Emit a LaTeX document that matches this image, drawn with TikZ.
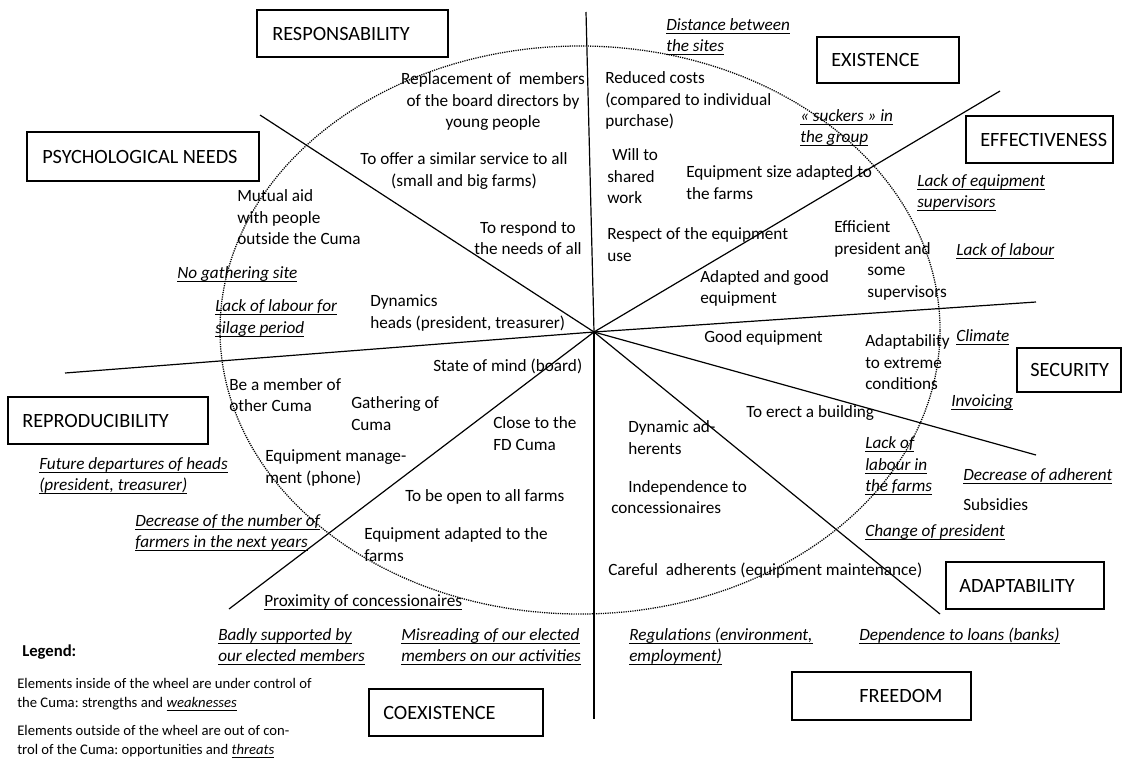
\documentclass[tikz,border=0pt]{standalone}
\usepackage{fontspec}
\setmainfont{Carlito}
\frenchspacing
\newcommand\uln[1]{\leavevmode\setbox0\hbox{#1}\rlap{\rule[-2.4pt]{\wd0}{0.6pt}}\box0}
\newcommand\thr[1]{\uln{\itshape #1}}
\begin{document}
\begin{tikzpicture}[x=0.75pt,y=-0.75pt,
  txt/.style={font=\fontsize{12.9}{16.1}\selectfont, align=left, anchor=west, inner sep=0pt},
  ctxt/.style={txt, align=center, anchor=center},
  catbox/.style={draw, line width=2.2pt, inner sep=0pt},
  cat/.style={font=\fontsize{15.2}{18}\selectfont, anchor=west, inner sep=0pt},
  leg/.style={font=\fontsize{11}{14.25}\selectfont, align=left, anchor=west, inner sep=0pt},
  spoke/.style={line width=0.9pt},
  wheel/.style={line width=0.95pt, dash pattern=on 0.9pt off 0.8pt}]
\useasboundingbox (0,0) rectangle (1124,758);

% wheel
\draw[wheel] (580,330) ellipse [x radius=270pt, y radius=213pt];

% spokes
\coordinate (C) at (594,332);
\coordinate (eU) at (586,12);
\coordinate (eD) at (594,719);
\coordinate (eUL) at (260,115);
\coordinate (eL) at (65,373);
\coordinate (eDL) at (229,609);
\coordinate (eUR) at (1000,91);
\coordinate (eR) at (1036,302);
\coordinate (eDR1) at (1036,455);
\coordinate (eDR2) at (940,614);
\foreach \e in {eU,eD,eUL,eL,eDL,eUR,eR,eDR1,eDR2} \draw[spoke] (C) -- (\e);

% category boxes
\node[catbox, minimum width=143.25pt, minimum height=35.25pt] (bResp) at (352.5,33.5) {};
\node[cat] (lResp) at (272,33.5) {RESPONSABILITY};
\node[catbox, minimum width=106.5pt, minimum height=34.5pt] (bExist) at (888,60) {};
\node[cat] (lExist) at (831,60) {EXISTENCE};
\node[catbox, minimum width=174pt, minimum height=36.75pt] (bPsych) at (143,156.5) {};
\node[cat] (lPsych) at (42,156.5) {PSYCHOLOGICAL NEEDS};
\node[catbox, minimum width=110.25pt, minimum height=35.25pt] (bEff) at (1039.5,139.5) {};
\node[cat] (lEff) at (980,139.5) {EFFECTIVENESS};
\node[catbox, minimum width=78pt, minimum height=33pt] (bSec) at (1069,370) {};
\node[cat] (lSec) at (1030,370) {SECURITY};
\node[catbox, minimum width=150pt, minimum height=35.25pt] (bRepro) at (108,420.5) {};
\node[cat] (lRepro) at (22,420.5) {REPRODUCIBILITY};
\node[catbox, minimum width=118.5pt, minimum height=35.25pt] (bAdapt) at (1025,585.5) {};
\node[cat] (lAdapt) at (959,585.5) {ADAPTABILITY};
\node[catbox, minimum width=130.5pt, minimum height=35.25pt] (bCoex) at (456,712.5) {};
\node[cat] (lCoex) at (383,712.5) {COEXISTENCE};
\node[catbox, minimum width=134.25pt, minimum height=36pt] (bFree) at (881.5,696) {};
\node[cat] (lFree) at (859,696) {FREEDOM};

% responsability sector
\node[ctxt] (t1) at (493,101.5) {Replacement of~ members\\of the board directors by\\young people};
\node[ctxt] (t2) at (464,171) {To offer a similar service to all\\(small and big farms)};
\node[ctxt] (t3) at (528,238) {To respond to\\the needs of all};

% psychological needs sector
\node[txt] (t4) at (237,217.5) {Mutual aid\\with people\\outside the Cuma};
\node[txt] (t5) at (177,274) {\thr{No gathering site}};
\node[txt] (t6) at (215,318) {\thr{Lack of labour for}\\\thr{silage period}};
\node[txt] (t7) at (370,313) {Dynamics\\heads (president, treasurer)};

% reproducibility sector
\node[txt] (t8) at (433,366) {State of mind (board)};
\node[txt] (t9) at (229,395) {Be a member of\\other Cuma};
\node[txt] (t10) at (351,413.5) {Gathering of\\Cuma};
\node[txt] (t11) at (265,468) {Equipment manage-\\ment (phone)};
\node[txt] (t12) at (39,475.5) {\thr{Future departures of heads}\\\thr{(president, treasurer)}};
\node[txt] (t13) at (135,532.5) {\thr{Decrease of the number of}\\\thr{farmers in the next years}};

% coexistence sector
\node[txt] (t14) at (493,433.5) {Close to the\\FD Cuma};
\node[txt] (t15) at (405,497) {To be open to all farms};
\node[txt] (t16) at (364,544.5) {Equipment adapted to the\\farms};
\node[txt] (t17) at (264,602) {\uln{Proximity of concessionaires}};
\node[txt] (t18) at (218,646.5) {\thr{Badly supported by}\\\thr{our elected members}};
\node[txt] (t19) at (401,646.5) {\thr{Misreading of our elected}\\\thr{members on our activities}};

% freedom sector
\node[txt] (t20) at (628,437.5) {Dynamic ad-\\herents};
\node[txt] (t21) at (611,497) {\hspace*{12.75pt}Independence to\\concessionaires};
\node[txt] (t22) at (608,571) {Careful~ adherents (equipment maintenance)};
\node[txt] (t23) at (629,646.5) {\thr{Regulations (environment,}\\\thr{employment)}};

% adaptability sector
\node[txt] (t24) at (746,413) {To erect a building};
\node[txt] (t25) at (865,466) {\thr{Lack of}\\\thr{labour in}\\\thr{the farms}};
\node[txt] (t26) at (865,532) {\thr{Change of president}};
\node[txt] (t27) at (963,476) {\thr{Decrease of adherent}};
\node[txt] (t28) at (963,505) {Subsidies};
\node[txt] (t29) at (859,636) {\thr{Dependence to loans (banks)}};

% security sector
\node[txt] (t30) at (704,338) {Good equipment};
\node[txt] (t31) at (865,362.5) {Adaptability\\to extreme\\conditions};
\node[txt] (t32) at (956,337) {\thr{Climate}};
\node[txt] (t33) at (951,402) {\thr{Invoicing}};

% effectiveness sector
\node[txt] (t34) at (700,288.5) {Adapted and good\\equipment};
\node[txt] (t35) at (834,260.5) {Efficient\\president and\\\hspace*{24.75pt}some\\\hspace*{24.75pt}supervisors};
\node[txt] (t36) at (917,192.5) {\thr{Lack of equipment}\\\thr{supervisors}};
\node[txt] (t37) at (956,251) {\thr{Lack of labour}};

% existence sector
\node[txt] (t38) at (605,100.5) {Reduced costs\\(compared to individual\\purchase)};
\node[txt] (t39) at (607,176.5) {\hspace*{3.75pt}Will to\\shared\\work};
\node[txt] (t40) at (686,182.5) {Equipment size adapted to\\the farms};
\node[txt] (t41) at (607,244.5) {Respect of the equipment\\use};
\node[txt] (t42) at (666,36.5) {\thr{Distance between}\\\thr{the sites}};
\node[txt] (t43) at (800,127.5) {\thr{« suckers » in}\\\thr{the group}};

% legend
\node[txt, font=\fontsize{12.5}{15}\selectfont\bfseries] (legT) at (22,652) {Legend:};
\node[leg] (leg1) at (17,694.5) {Elements inside of the wheel are under control of\\the Cuma: strengths and \thr{weaknesses}};
\node[leg] (leg2) at (17,741.5) {Elements outside of the wheel are out of con-\\trol of the Cuma: opportunities and \thr{threats}};
\end{tikzpicture}
\end{document}
